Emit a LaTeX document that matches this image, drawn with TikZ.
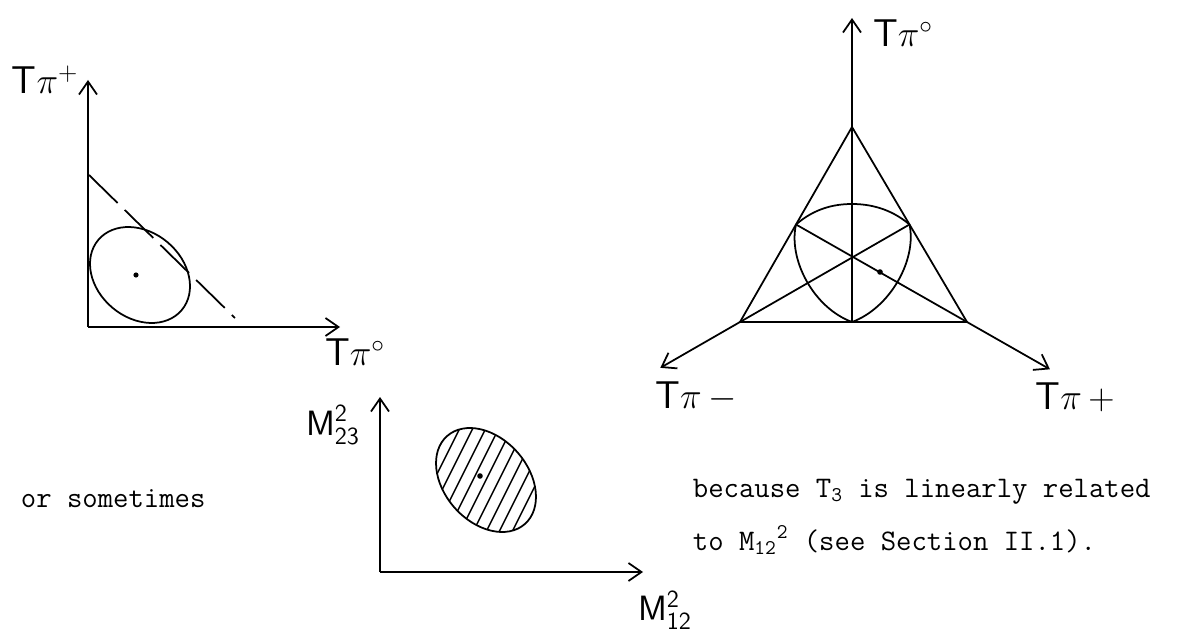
\documentclass[tikz,border=0pt]{standalone}
\usepackage{fontspec}
\usetikzlibrary{arrows.meta,calc}

\begin{document}
\begin{tikzpicture}[x=0.02cm, y=-0.02cm, line width=1pt,
  >={Straight Barb[length=2.6mm,width=3.6mm]},
  axislabel/.style={font=\sffamily\fontsize{22}{26}\selectfont, inner sep=0pt},
  masslabel/.style={font=\fontsize{20}{24}\selectfont, inner sep=0pt},
  typed/.style={font=\ttfamily\fontsize{17}{20}\selectfont, inner sep=0pt, anchor=base west}]

\useasboundingbox (0,0) rectangle (1196,638);

\coordinate (o1) at (88,327);
\coordinate (y1) at (88,80);
\coordinate (x1) at (340,327);
\draw[->] (o1) -- (y1);
\draw[->] (o1) -- (x1);
\node[axislabel] (tpp1) at (45,80) {T$\pi^{+}$};
\node[axislabel] (tpz1) at (355,352) {T$\pi^{\circ}$};
\draw[dash pattern=on 0.8cm off 0.2cm] (89,175) -- (235,318);
\draw[rotate around={-40:(140,275)}] (140,275) ellipse (54.5 and 42.8);
\fill (136,275) circle (2.6);

\coordinate (apex) at (852,127);
\coordinate (bl) at (740,322);
\coordinate (br) at (967,322);
\coordinate (bm) at (852,322);
\coordinate (ml) at (796,224.5);
\coordinate (mr) at (909.5,224.5);
\coordinate (top) at (852,18);
\draw (apex) -- (bl) -- (br) -- cycle;
\draw[->] (bm) -- (top);
\draw[->] (mr) -- ($(mr)!1.47!(bl)$);
\draw[->] (ml) -- ($(ml)!1.485!(br)$);
\draw (ml) .. controls (815,208) and (835,204) .. (852,204) .. controls (869,204) and (890,208) .. (mr) .. controls (917,260) and (890,308) .. (bm) .. controls (814,308) and (788,260) .. (ml);
\fill (880,272) circle (2.8);
\node[axislabel] (tpz2) at (903,33) {T$\pi^{\circ}$};
\node[axislabel] (tpm2) at (696,397) {T$\pi$\,$-$};
\node[axislabel] (tpp2) at (1075,397) {T$\pi$\,$+$};

\coordinate (o3) at (380,572);
\coordinate (y3) at (380,397);
\coordinate (x3) at (643,572);
\draw[->] (o3) -- (y3);
\draw[->] (o3) -- (x3);
\node[masslabel] (m23) at (333,425) {$\mathsf{M}^{\mathsf{2}}_{\mathsf{23}}$};
\node[masslabel] (m12) at (665,610) {$\mathsf{M}^{\mathsf{2}}_{\mathsf{12}}$};
\draw[rotate around={-48.5:(486,480)}] (486,480) ellipse (58.7 and 41.9);
\begin{scope}
\clip[rotate around={-48.5:(486,480)}] (486,480) ellipse (58.7 and 41.9);
\foreach \k in {-6,...,6}
  \draw[line width=0.8pt] ({486+13*\k-70},620) -- ({486+13*\k+70},340);
\end{scope}
\fill (480,476) circle (2.8);

\node[typed] (sometimes) at (20,507) {or sometimes};
\node[typed] (because) at (692,497) {because T\textsubscript{3} is linearly related};
\node[typed] (section) at (692,550) {to M\textsubscript{12}\textsuperscript{2} (see Section II.1).};

\end{tikzpicture}
\end{document}
